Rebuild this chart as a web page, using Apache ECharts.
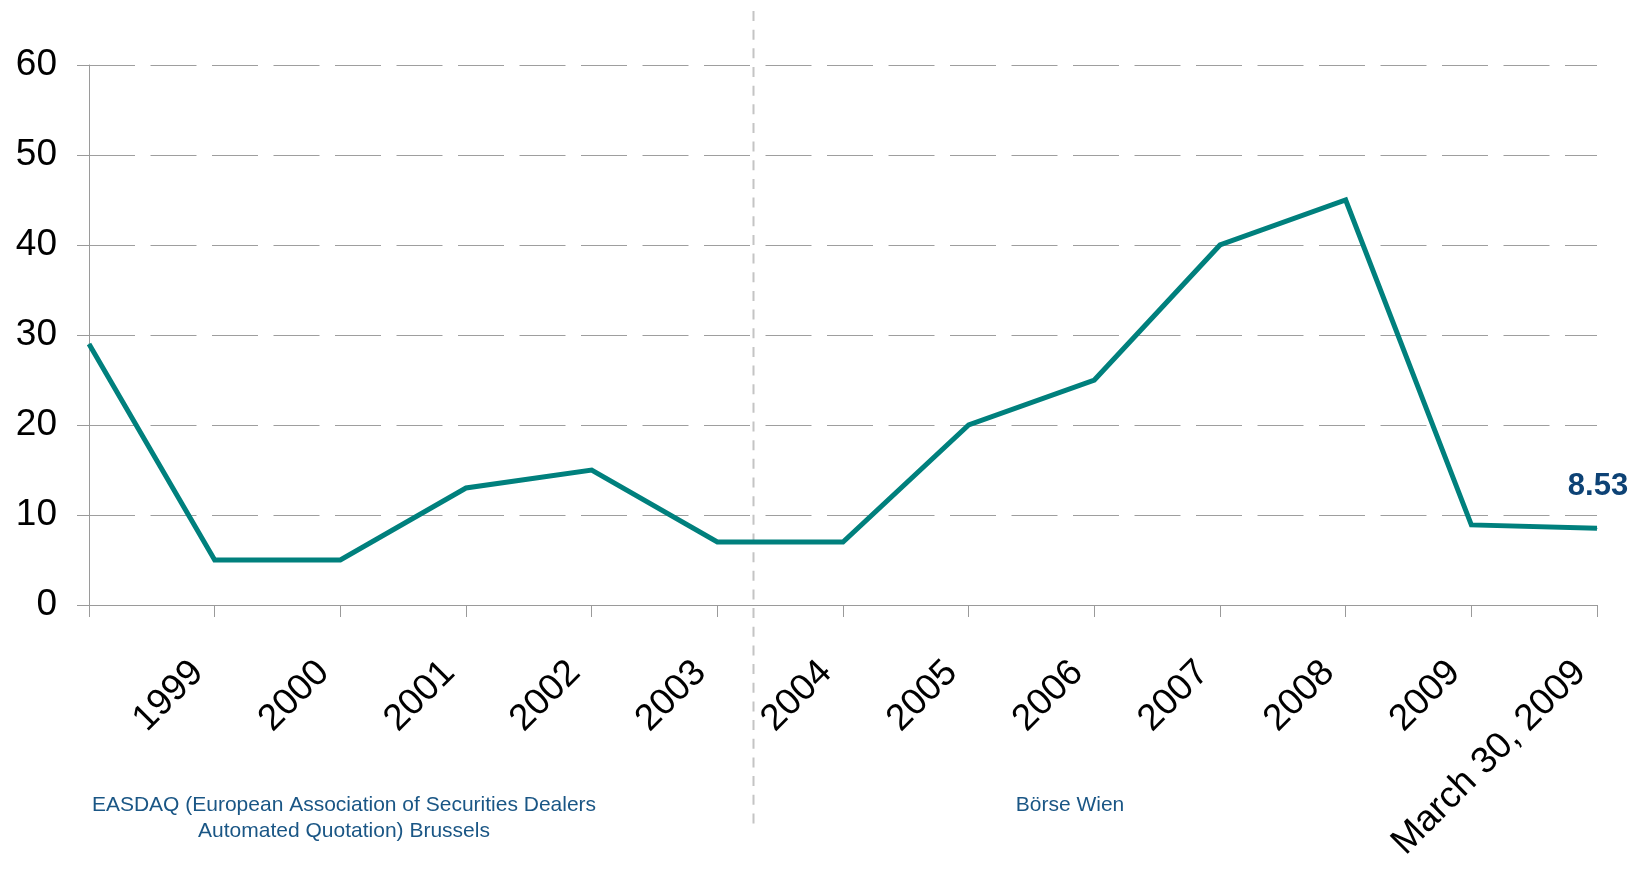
<!DOCTYPE html>
<html>
<head>
<meta charset="utf-8">
<script src="https://cdn.jsdelivr.net/npm/echarts@6/dist/echarts.min.js"></script>
<style>
  html, body { margin: 0; padding: 0; background: #fff; }
  #chart { width: 1639px; height: 869px; }
</style>
</head>
<body>
<div id="chart"></div>
<script>
// Category labels along the x axis (first point sits on the y axis, unlabeled)
const categories = ['', '1999', '2000', '2001', '2002', '2003', '2004', '2005',
                    '2006', '2007', '2008', '2009', 'March 30, 2009'];
// Series values
const values = [29, 5, 5, 13, 15, 7, 7, 20, 25, 40, 45, 8.9, 8.53];
// Y axis range and step
const yMin = 0, yMax = 60, yStep = 10;
// Exchange segments shown under the axis
const segmentLabels = [
  'EASDAQ (European Association of Securities Dealers\nAutomated Quotation) Brussels',
  'Börse Wien'
];

const FONT = '"Liberation Sans", Arial, sans-serif';
const chart = echarts.init(document.getElementById('chart'), null, { renderer: 'canvas' });

const lastIdx = values.length - 1;

chart.setOption({
  backgroundColor: '#ffffff',
  animation: false,
  grid: { left: 89, right: 42, top: 65, bottom: 264, containLabel: false },
  xAxis: {
    type: 'category',
    data: categories,
    boundaryGap: false,
    axisLine: { show: true, lineStyle: { color: '#9a9a9a', width: 1 } },
    axisTick: { show: true, alignWithLabel: true, length: 12, interval: 0,
                lineStyle: { color: '#9a9a9a', width: 1 } },
    axisLabel: { interval: 0, rotate: 45, margin: 45, color: '#000',
                 fontFamily: FONT, fontSize: 37, padding: [0, 24, 0, 0] },
    splitLine: { show: false }
  },
  yAxis: {
    type: 'value',
    min: yMin, max: yMax, interval: yStep,
    axisLine: { show: true, lineStyle: { color: '#9a9a9a', width: 1 } },
    axisTick: { show: true, length: 12, lineStyle: { color: '#9a9a9a', width: 1 } },
    axisLabel: { margin: 32, color: '#000', fontFamily: FONT, fontSize: 37 },
    splitLine: { show: true, lineStyle: { color: '#9e9e9e', width: 1, type: [46, 15.5] } }
  },
  series: [{
    type: 'line',
    data: values.map((v, i) => i === lastIdx
      ? { value: v, label: { show: true } }
      : v),
    symbol: 'circle',
    symbolSize: 1,
    showSymbol: true,
    itemStyle: { color: '#00807d' },
    lineStyle: { color: '#00807d', width: 5, join: 'miter' },
    label: {
      show: false,
      position: 'top',
      distance: 5,
      offset: [1, -21],
      formatter: p => p.value.toFixed(2),
      color: '#0d4275',
      fontFamily: FONT,
      fontWeight: 'bold',
      fontSize: 31
    }
  }]
});

// Vertical divider between the two exchanges, between the 2003 and 2004 ticks
const p5 = chart.convertToPixel({ xAxisIndex: 0 }, 5);
const p6 = chart.convertToPixel({ xAxisIndex: 0 }, 6);
const divX = Math.round(p5 + (p6 - p5) * 0.28) + 0.5;

chart.setOption({
  graphic: [
    {
      type: 'line',
      shape: { x1: divX, y1: 11, x2: divX, y2: 823.5 },
      style: { stroke: '#c4c4c4', lineWidth: 2, lineDash: [10, 8.66] },
      z: 1
    },
    {
      type: 'text',
      x: 344, y: 792,
      style: {
        text: segmentLabels[0],
        fill: '#1a5685',
        font: '21px ' + FONT,
        textAlign: 'center',
        textVerticalAlign: 'top',
        lineHeight: 26
      }
    },
    {
      type: 'text',
      x: 1070, y: 792,
      style: {
        text: segmentLabels[1],
        fill: '#1a5685',
        font: '21px ' + FONT,
        textAlign: 'center',
        textVerticalAlign: 'top',
        lineHeight: 26
      }
    }
  ]
});
</script>
</body>
</html>
